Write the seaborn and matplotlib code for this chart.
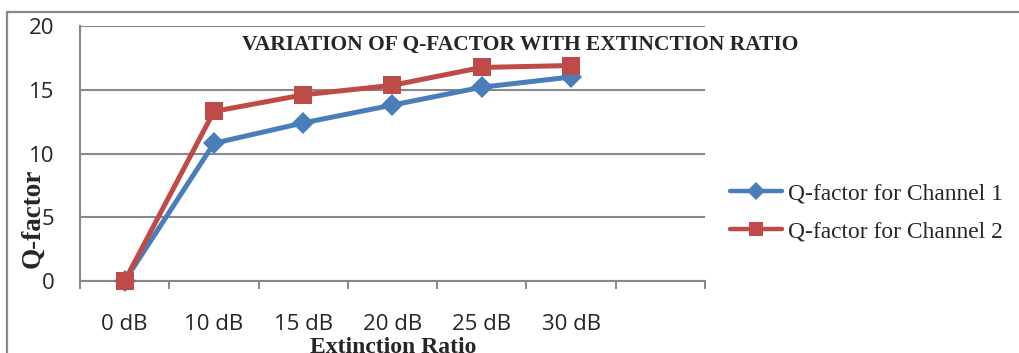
import matplotlib
matplotlib.use("Agg")
import matplotlib.pyplot as plt
import seaborn as sns
import pandas as pd
import numpy as np
from matplotlib.lines import Line2D

categories = ["0 dB", "10 dB", "15 dB", "20 dB", "25 dB", "30 dB"]
channel1 = [0.0, 10.8, 12.4, 13.8, 15.2, 16.0]
channel2 = [0.0, 13.3, 14.6, 15.35, 16.75, 16.9]
series_names = ["Q-factor for Channel 1", "Q-factor for Channel 2"]
yticks = [0, 5, 10, 15, 20]

sns.set_theme(style="white")
plt.rcParams['font.family'] = ['Open Sans', 'DejaVu Sans']

W, H = 1020, 353
fig = plt.figure(figsize=(W / 100, H / 100), dpi=100)
ax = fig.add_axes([80 / W, 1 - 281 / H, (705 - 80) / W, (281 - 26) / H])

df = pd.DataFrame({
    "pos": list(range(len(categories))) * 2,
    "value": channel1 + channel2,
    "series": [series_names[0]] * len(categories) + [series_names[1]] * len(categories),
})

blue = "#4A7EBB"
red = "#BE4B48"
grid_c = "#888888"
palette = {series_names[0]: blue, series_names[1]: red}
markers = {series_names[0]: "D", series_names[1]: "s"}

sns.lineplot(data=df, x="pos", y="value", hue="series", style="series",
             palette=palette, markers=markers, dashes=False, linewidth=3.6,
             markersize=10, markeredgewidth=0, ax=ax, legend=False, zorder=3,
             clip_on=False)
for ln in ax.lines:
    if ln.get_marker() == "s":
        ln.set_markersize(13.5)
    elif ln.get_marker() == "D":
        ln.set_markersize(11)
    ln.set_clip_on(False)

ax.set_xlim(-0.5, 6.5)
ax.set_ylim(0, 20)
ax.set_yticks(yticks)
ax.set_yticklabels([str(v) for v in yticks], fontsize=16)
ax.yaxis.grid(True, color=grid_c, linewidth=1.5)
ax.set_axisbelow(True)

ax.set_xticks(range(len(categories)))
ax.set_xticklabels(categories, fontsize=16)
ax.set_xticks(np.arange(-0.5, 7, 1), minor=True)
ax.tick_params(axis="x", which="major", length=0, pad=24)
ax.tick_params(axis="x", which="minor", length=6, width=1.4, color=grid_c, direction="out")
ax.tick_params(axis="y", which="major", length=5.5, width=1.4, color=grid_c, direction="out", pad=13)
ax.xaxis.set_tick_params(which="minor", bottom=True)

for s in ["top", "right"]:
    ax.spines[s].set_visible(False)
for s in ["left", "bottom"]:
    ax.spines[s].set_color(grid_c)
    ax.spines[s].set_linewidth(1.5)

ax.set_xlabel("Extinction Ratio", family="Liberation Serif", fontweight="bold",
              fontsize=17)
ax.set_ylabel("Q-factor", family="Liberation Serif", fontweight="bold",
              fontsize=19.5)
ax.xaxis.set_label_coords((393 - 80) / (705 - 80), -(337 - 281) / (281 - 26))
ax.yaxis.set_label_coords(-(80 - 45) / (705 - 80), (281 - 218) / (281 - 26))

fig.text(520 / W, 1 - 45 / H, "VARIATION OF Q-FACTOR WITH EXTINCTION RATIO",
         family="Liberation Serif", fontweight="bold", fontsize=15.5,
         ha="center", va="center")

handles = [
    Line2D([], [], color=blue, linewidth=3.2, marker="D", markersize=9, markeredgewidth=0),
    Line2D([], [], color=red, linewidth=3.2, marker="s", markersize=9.5, markeredgewidth=0),
]
fig.legend(handles, series_names, loc="center left",
           bbox_to_anchor=(730 / W, 1 - 212.5 / H), frameon=False, borderpad=0,
           borderaxespad=0,
           prop={"family": "Liberation Serif", "size": 16.9},
           handlelength=2.2, handletextpad=0.25, labelspacing=0.72)

# outer chart border (top and left)
fig.add_artist(Line2D([7.5 / W, 7.5 / W], [0, 1 - 12 / H], transform=fig.transFigure,
                      color=grid_c, linewidth=1.6))
fig.add_artist(Line2D([7.5 / W, 1.0], [1 - 12 / H, 1 - 12 / H], transform=fig.transFigure,
                      color=grid_c, linewidth=1.6))

fig.savefig("out.png", dpi=100)
